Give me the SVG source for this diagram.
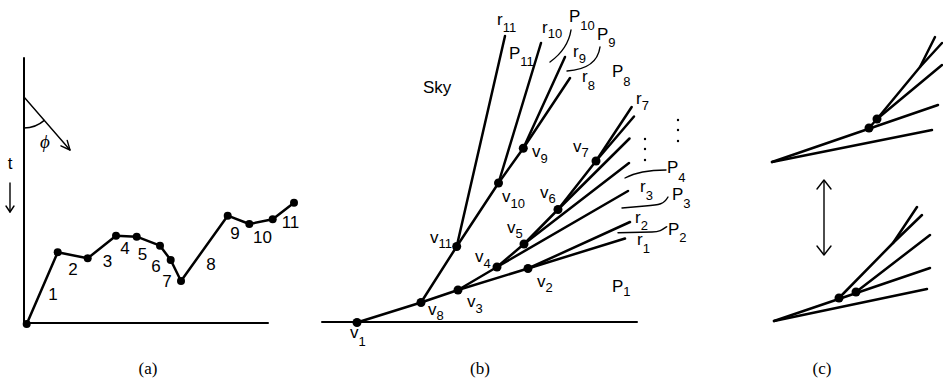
<svg xmlns="http://www.w3.org/2000/svg" width="943" height="389" viewBox="0 0 943 389">
<style>
.ln{stroke:#000;stroke-width:2.5;fill:none;stroke-linecap:round;stroke-linejoin:round}
.ax{stroke:#000;stroke-width:2;fill:none;stroke-linecap:round}
.th{stroke:#000;stroke-width:1.4;fill:none;stroke-linecap:round;stroke-linejoin:round}
.dot{fill:#000}
.lb{font-family:"Liberation Sans",Arial,sans-serif;font-size:17px;fill:#000}
.sb{font-size:13px}
.num{font-family:"Liberation Sans",Arial,sans-serif;font-size:17px;fill:#000;text-anchor:middle}
.cap{font-family:"Liberation Serif","Times New Roman",serif;font-size:17px;fill:#000;text-anchor:middle}
</style>
<rect width="943" height="389" fill="#fff"/>

<!-- Panel (a) -->
<g id="panel-a">
  <line class="ax" x1="24" y1="58" x2="24" y2="323"/>
  <line class="ax" x1="24" y1="323" x2="268" y2="323"/>
  <line class="th" x1="24" y1="97" x2="70" y2="150"/>
  <polyline class="th" points="60.9,145.9 70,150 67.2,140.4"/>
  <path class="th" d="M24,128 A31,31 0 0 0 44.3,120.4"/>
  <text x="45" y="148" style="font-family:'Liberation Serif','DejaVu Serif',serif;font-style:italic;font-size:19px;text-anchor:middle">ϕ</text>
  <text class="num" x="10" y="169">t</text>
  <line class="th" x1="10" y1="183" x2="10" y2="212"/>
  <polyline class="th" points="6,206 10,212 14,206"/>
  <polyline class="ln" points="26.7,324 57.7,252.3 87.7,258.3 116,235.7 136.7,236.7 160,245.7 170.7,260 181,281 227.7,215.7 249.3,224 272.7,219.3 294,202.7"/>
  <g class="dot">
    <circle cx="26.7" cy="324" r="4"/>
    <circle cx="57.7" cy="252.3" r="4"/>
    <circle cx="87.7" cy="258.3" r="4"/>
    <circle cx="116" cy="235.7" r="4"/>
    <circle cx="136.7" cy="236.7" r="4"/>
    <circle cx="160" cy="245.7" r="4"/>
    <circle cx="170.7" cy="260" r="4"/>
    <circle cx="181" cy="281" r="4"/>
    <circle cx="227.7" cy="215.7" r="4"/>
    <circle cx="249.3" cy="224" r="4"/>
    <circle cx="272.7" cy="219.3" r="4"/>
    <circle cx="294" cy="202.7" r="4"/>
  </g>
  <text class="num" x="53" y="300">1</text>
  <text class="num" x="73" y="275">2</text>
  <text class="num" x="107.5" y="267">3</text>
  <text class="num" x="125" y="254">4</text>
  <text class="num" x="142.5" y="260">5</text>
  <text class="num" x="156" y="272">6</text>
  <text class="num" x="167" y="287">7</text>
  <text class="num" x="211" y="270">8</text>
  <text class="num" x="235" y="239">9</text>
  <text class="num" x="262.5" y="243">10</text>
  <text class="num" x="290.5" y="228">11</text>
  <text class="cap" x="148" y="374">(a)</text>
</g>

<!-- Panel (b) -->
<g id="connectors">
  <line class="ax" x1="322" y1="322" x2="637" y2="322"/>
  <polyline id="r1" class="ln" points="357,322.5 421,302.5 458,290 528,268.5 625,238.5"/>
  <polyline id="r2" class="ln" points="528,268.5 630,222"/>
  <polyline id="r3" class="ln" points="458,290 497,267 628,191"/>
  <polyline id="r4" class="ln" points="497,267 524,244 629,163"/>
  <polyline id="r5" class="ln" points="524,244 558,209.5 629.5,138.5"/>
  <polyline id="r6" class="ln" points="558,209.5 596,161 634,116.5"/>
  <polyline id="r7" class="ln" points="596,161 631.7,107"/>
  <polyline id="r8" class="ln" points="421,302.5 456.7,246.5 498.5,183 523.3,148.3 570,78"/>
  <polyline id="r9" class="ln" points="523.3,148.3 565,57"/>
  <polyline id="r10" class="ln" points="498.5,183 541,43"/>
  <polyline id="r11" class="ln" points="456.7,246.5 505,36"/>
  <!-- region leaders -->
  <path class="th" d="M571,30 Q568,49 550,62"/>
  <path class="th" d="M600,47 Q597,69 567,71"/>
  <path class="th" d="M666,170 C650,170 636,172 625,178"/>
  <path class="th" d="M668,197 C664,204 660,205 645,206 L622,208"/>
  <path class="th" d="M666.7,226.7 C662,230 660,231.7 652,232 L618,232.7"/>
</g>

<g id="v1"><circle class="dot" cx="357" cy="322.5" r="4.5"/><text class="lb" x="350" y="338">v<tspan class="sb" dy="8">1</tspan></text></g>
<g id="v2"><circle class="dot" cx="528" cy="268.5" r="4.5"/><text class="lb" x="537" y="287">v<tspan class="sb" dy="5">2</tspan></text></g>
<g id="v3"><circle class="dot" cx="458" cy="290" r="4.5"/><text class="lb" x="467" y="307">v<tspan class="sb" dy="6">3</tspan></text></g>
<g id="v4"><circle class="dot" cx="497" cy="267" r="4.5"/><text class="lb" x="475" y="262">v<tspan class="sb" dy="6">4</tspan></text></g>
<g id="v5"><circle class="dot" cx="524" cy="244" r="4.5"/><text class="lb" x="507" y="233">v<tspan class="sb" dy="5">5</tspan></text></g>
<g id="v6"><circle class="dot" cx="558" cy="209.5" r="4.5"/><text class="lb" x="540" y="198">v<tspan class="sb" dy="5">6</tspan></text></g>
<g id="v7"><circle class="dot" cx="596" cy="161" r="4.5"/><text class="lb" x="573" y="152">v<tspan class="sb" dy="5">7</tspan></text></g>
<g id="v8"><circle class="dot" cx="421" cy="302.5" r="4.5"/><text class="lb" x="428" y="315">v<tspan class="sb" dy="5">8</tspan></text></g>
<g id="v9"><circle class="dot" cx="523.3" cy="148.3" r="4.5"/><text class="lb" x="532" y="157">v<tspan class="sb" dy="6">9</tspan></text></g>
<g id="v10"><circle class="dot" cx="498.5" cy="183" r="4.5"/><text class="lb" x="502" y="202">v<tspan class="sb" dy="6">10</tspan></text></g>
<g id="v11"><circle class="dot" cx="456.7" cy="246.5" r="4.5"/><text class="lb" x="430" y="243">v<tspan class="sb" dy="5">11</tspan></text></g>

<g id="labels-b">
  <text class="lb" x="423" y="93">Sky</text>
  <text class="lb" x="497" y="25">r<tspan class="sb" dy="7">11</tspan></text>
  <text class="lb" x="509" y="59">P<tspan class="sb" dy="7">11</tspan></text>
  <text class="lb" x="542" y="33">r<tspan class="sb" dy="5">10</tspan></text>
  <text class="lb" x="569" y="22">P<tspan class="sb" dy="8">10</tspan></text>
  <text class="lb" x="597" y="40">P<tspan class="sb" dy="7">9</tspan></text>
  <text class="lb" x="573" y="57">r<tspan class="sb" dy="6">9</tspan></text>
  <text class="lb" x="582" y="82">r<tspan class="sb" dy="8">8</tspan></text>
  <text class="lb" x="612" y="77">P<tspan class="sb" dy="9">8</tspan></text>
  <text class="lb" x="636" y="104">r<tspan class="sb" dy="6">7</tspan></text>
  <text class="lb" x="667" y="173">P<tspan class="sb" dy="9">4</tspan></text>
  <text class="lb" x="640" y="192">r<tspan class="sb" dy="8">3</tspan></text>
  <text class="lb" x="672" y="200">P<tspan class="sb" dy="8">3</tspan></text>
  <text class="lb" x="635" y="223">r<tspan class="sb" dy="7">2</tspan></text>
  <text class="lb" x="668" y="235">P<tspan class="sb" dy="7">2</tspan></text>
  <text class="lb" x="637" y="245">r<tspan class="sb" dy="8">1</tspan></text>
  <text class="lb" x="612" y="292">P<tspan class="sb" dy="4">1</tspan></text>
  <g class="dot">
    <circle cx="678" cy="120" r="1.2"/><circle cx="678" cy="130" r="1.2"/><circle cx="678" cy="141" r="1.2"/>
    <circle cx="645" cy="139" r="1.2"/><circle cx="645" cy="149" r="1.2"/><circle cx="645" cy="160" r="1.2"/>
  </g>
  <text class="cap" x="480" y="374">(b)</text>
</g>

<!-- Panel (c) -->
<g id="panel-c">
  <g id="c-top">
    <line class="ln" x1="772" y1="162" x2="932" y2="130"/>
    <line class="ln" x1="772" y1="162" x2="938" y2="105"/>
    <polyline class="ln" points="869,128 877,119 920,67 935,37"/>
    <line class="ln" x1="920" y1="67" x2="942" y2="43"/>
    <line class="ln" x1="877" y1="119" x2="942" y2="65"/>
    <circle class="dot" cx="869" cy="128" r="4.5"/>
    <circle class="dot" cx="877" cy="119" r="4.5"/>
  </g>
  <g id="c-arrow">
    <line class="th" x1="824" y1="181" x2="824" y2="254"/>
    <polyline class="th" points="817,189 824,180 831,189"/>
    <polyline class="th" points="817,246 824,255 831,246"/>
  </g>
  <g id="c-bottom">
    <line class="ln" x1="774" y1="321" x2="927" y2="289"/>
    <line class="ln" x1="774" y1="321" x2="930" y2="268"/>
    <polyline class="ln" points="839,298 893,243 917,207"/>
    <line class="ln" x1="893" y1="243" x2="922" y2="215"/>
    <line class="ln" x1="856" y1="292" x2="930" y2="235"/>
    <circle class="dot" cx="839" cy="298" r="4.5"/>
    <circle class="dot" cx="856" cy="292" r="4.5"/>
  </g>
  <text class="cap" x="822" y="374">(c)</text>
</g>
</svg>
